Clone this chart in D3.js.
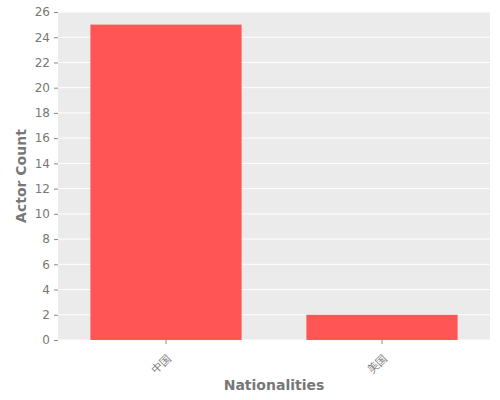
<!DOCTYPE html>
<html><head><meta charset="utf-8">
<script src="https://cdn.jsdelivr.net/npm/d3@7"></script>
<style>body{margin:0;background:#fff}text{font-family:"DejaVu Sans",sans-serif}</style>
</head><body>
<script>
var categories = ["中国", "美国"];
var counts = [25, 2];
var yTicks = d3.range(0, 27, 2);

var width = 500, height = 400;
var m = {left: 58, right: 10, top: 12, bottom: 60};
var svg = d3.select("body").append("svg").attr("width", width).attr("height", height);

var x = d3.scaleBand().domain(categories).range([m.left, width - m.right]).paddingInner(0.3).paddingOuter(0.15);
var y = d3.scaleLinear().domain([0, 26]).range([height - m.bottom, m.top]);

svg.append("rect").attr("x", m.left).attr("y", m.top)
  .attr("width", width - m.left - m.right).attr("height", height - m.top - m.bottom)
  .attr("fill", "#ebebeb");

svg.selectAll(".grid").data(yTicks).enter().append("line")
  .attr("x1", m.left).attr("x2", width - m.right)
  .attr("y1", function(d){ return y(d) }).attr("y2", function(d){ return y(d) })
  .attr("stroke", "#fff").attr("stroke-width", 1);

svg.selectAll(".bar").data(counts).enter().append("rect")
  .attr("x", function(d, i){ return x(categories[i]) })
  .attr("width", x.bandwidth())
  .attr("y", function(d){ return y(d) })
  .attr("height", function(d){ return y(0) - y(d) })
  .attr("fill", "#ff5555");

var ya = svg.append("g").attr("transform", "translate(" + m.left + ",0)")
  .call(d3.axisLeft(y).tickValues(yTicks).tickSize(4).tickPadding(4));
ya.select(".domain").remove();
ya.selectAll("line").attr("stroke", "#888");
ya.selectAll("text").attr("fill", "#777").attr("font-size", 12);

var xa = svg.append("g").attr("transform", "translate(0," + (height - m.bottom) + ")")
  .call(d3.axisBottom(x).tickSize(4));
xa.select(".domain").remove();
xa.selectAll("line").attr("stroke", "#888");
xa.selectAll("text").attr("fill", "#777").attr("font-size", 11)
  .attr("text-anchor", "end").attr("dy", "0.3em").attr("dx", "-0.2em")
  .attr("transform", "translate(0,10) rotate(-45)");

svg.append("text").attr("x", (m.left + width - m.right) / 2).attr("y", 390)
  .attr("text-anchor", "middle").attr("fill", "#777").attr("font-size", 14).attr("font-weight", "bold")
  .text("Nationalities");
svg.append("text").attr("transform", "translate(26," + ((m.top + height - m.bottom) / 2) + ") rotate(-90)")
  .attr("text-anchor", "middle").attr("fill", "#777").attr("font-size", 14).attr("font-weight", "bold")
  .text("Actor Count");
</script>
</body></html>
